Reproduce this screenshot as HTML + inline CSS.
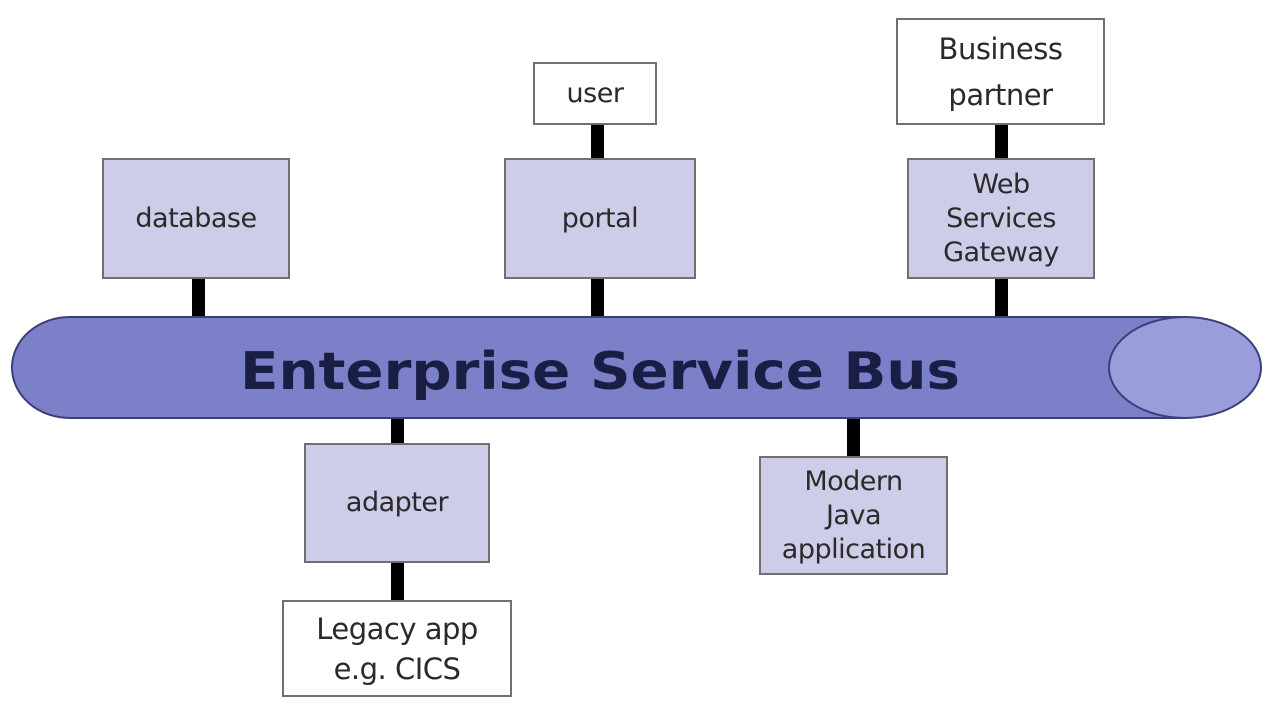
<!DOCTYPE html>
<html><head><style>
body{margin:0;width:1280px;height:706px;background:#fff;position:relative;overflow:hidden;font-family:"DejaVu Sans","Liberation Sans",sans-serif}
.b{position:absolute;box-sizing:border-box;border:2px solid #707070;background:#cdcce9;display:flex;align-items:center;justify-content:center;text-align:center;font-size:27px;line-height:34px;color:#2a2a2a;letter-spacing:-0.5px}
.w{background:#fff}
.l{position:absolute;background:#000;width:13px}
</style></head><body>
<div class="l" style="left:192px;top:278px;height:40px"></div>
<div class="l" style="left:591px;top:124px;height:36px"></div>
<div class="l" style="left:591px;top:278px;height:40px"></div>
<div class="l" style="left:995px;top:124px;height:36px"></div>
<div class="l" style="left:995px;top:278px;height:40px"></div>
<div class="l" style="left:391px;top:416px;height:29px"></div>
<div class="l" style="left:391px;top:562px;height:40px"></div>
<div class="l" style="left:847px;top:416px;height:42px"></div>
<svg style="position:absolute;left:0;top:0" width="1280" height="706">
<path d="M70 317 L1185 317 L1185 418 L70 418 A58 50.5 0 0 1 70 317Z" fill="#7b80c8" stroke="#3a3f7a" stroke-width="2"/>
<ellipse cx="1185" cy="367.5" rx="76" ry="50.5" fill="#9a9dd9" stroke="#3a3f7a" stroke-width="2"/>
<text x="240" y="389" textLength="720" lengthAdjust="spacingAndGlyphs" font-family="DejaVu Sans" font-weight="bold" font-size="52" fill="#1a1e45">Enterprise Service Bus</text>
</svg>
<div class="b" style="left:102px;top:158px;width:188px;height:121px">database</div>
<div class="b w" style="left:533px;top:62px;width:124px;height:63px">user</div>
<div class="b" style="left:504px;top:158px;width:192px;height:121px">portal</div>
<div class="b w" style="left:896px;top:18px;width:209px;height:107px;font-size:29px;line-height:46px">Business<br>partner</div>
<div class="b" style="left:907px;top:158px;width:188px;height:121px;line-height:34px">Web<br>Services<br>Gateway</div>
<div class="b" style="left:304px;top:443px;width:186px;height:120px">adapter</div>
<div class="b w" style="left:282px;top:600px;width:230px;height:97px;font-size:29px;line-height:40px">Legacy app<br>e.g. CICS</div>
<div class="b" style="left:759px;top:456px;width:189px;height:119px;line-height:34px">Modern<br>Java<br>application</div>
</body></html>
